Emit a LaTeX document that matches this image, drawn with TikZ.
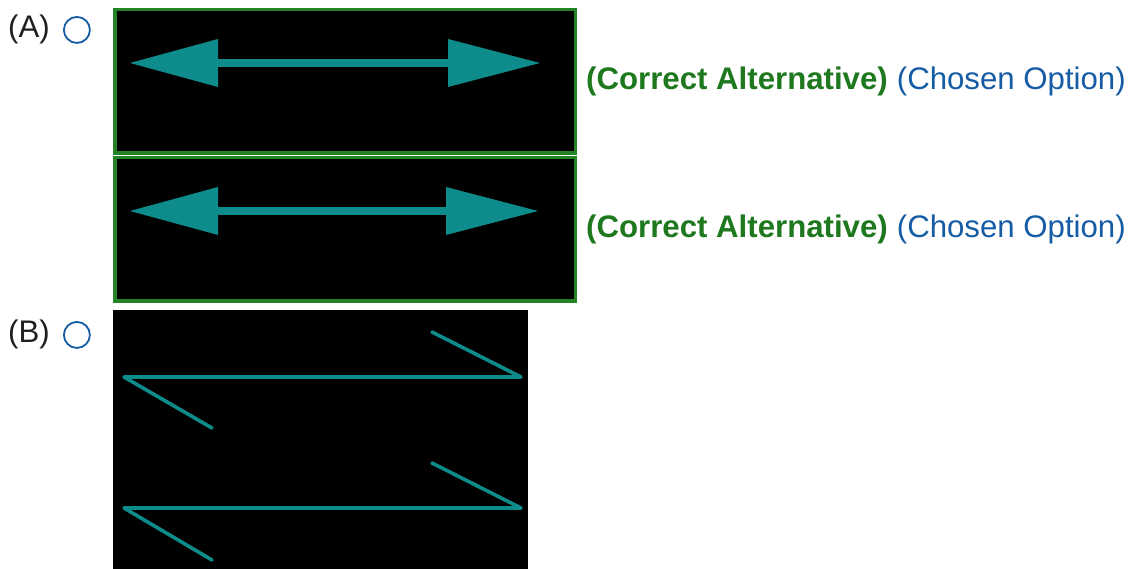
\documentclass[tikz,border=0pt]{standalone}
\usepackage{fontspec}
\setmainfont{Liberation Sans}
\usepackage{xcolor}
\usetikzlibrary{arrows.meta,positioning}

\definecolor{boxgreen}{RGB}{36,131,36}
\definecolor{rightgreen}{RGB}{30,120,30}
\definecolor{choiceblue}{RGB}{22,92,165}
\definecolor{arrowteal}{RGB}{14,140,140}

\begin{document}
\begin{tikzpicture}[
    x=1pt, y=-1pt,
    optlabel/.style={font=\fontsize{31.2pt}{37pt}\selectfont, text=black!88, inner sep=0pt, anchor=base west},
    radio/.style={circle, draw=choiceblue, line width=1.8pt, minimum size=26pt, inner sep=0pt},
    optbox/.style={rectangle, draw=boxgreen, fill=black, line width=3.5pt, minimum width=460.5pt, minimum height=143.5pt, inner sep=0pt},
    plainbox/.style={rectangle, fill=black, minimum width=415pt, minimum height=259pt, inner sep=0pt},
    correct/.style={font=\fontsize{31.2pt}{37pt}\selectfont\bfseries, text=rightgreen, inner sep=0pt},
    chosen/.style={font=\fontsize{31.2pt}{37pt}\selectfont, text=choiceblue, inner sep=0pt},
    arrow/.style={arrowteal, line width=7.5pt, {Triangle[length=88pt, width=48pt, line width=0pt]}-{Triangle[length=92pt, width=48pt, line width=0pt]}},
    zline/.style={arrowteal, line width=3.6pt, line join=round, line cap=round}
]
\useasboundingbox (0,0) rectangle (1130,569);

% Option A
\node[optlabel] (labA) at (8,38) {(A)};
\node[radio, right=13pt of labA] (radA) {};
\node[optbox] (boxA1) at (345,81.5) {};
\node[optbox, below=1pt of boxA1] (boxA2) {};

\coordinate (a1l) at (130,63);
\coordinate (a1r) at (540,63);
\coordinate (a2l) at (130,211);
\coordinate (a2r) at (538,211);
\draw[arrow] (a1l) -- (a1r);
\draw[arrow] (a2l) -- (a2r);

\node[correct, anchor=base west] (corrA1) at (586,90) {(Correct Alternative)};
\node[chosen, right=8.6pt of corrA1] (choseA1) {(Chosen Option)};
\node[correct, anchor=base west] (corrA2) at (586,238) {(Correct Alternative)};
\node[chosen, right=8.6pt of corrA2] (choseA2) {(Chosen Option)};

% Option B
\node[optlabel] (labB) at (8,343) {(B)};
\node[radio, right=13pt of labB] (radB) {};
\node[plainbox, anchor=north west] (boxB) at (113,310) {};

\coordinate (b1s) at (432,332);
\coordinate (b1r) at (521,377);
\coordinate (b1l) at (124,377);
\coordinate (b1e) at (212,428);
\coordinate (b2s) at (432,463);
\coordinate (b2r) at (521,508);
\coordinate (b2l) at (124,508);
\coordinate (b2e) at (212,560);
\draw[zline] (b1s) -- (b1r) -- (b1l) -- (b1e);
\draw[zline] (b2s) -- (b2r) -- (b2l) -- (b2e);

\end{tikzpicture}
\end{document}
